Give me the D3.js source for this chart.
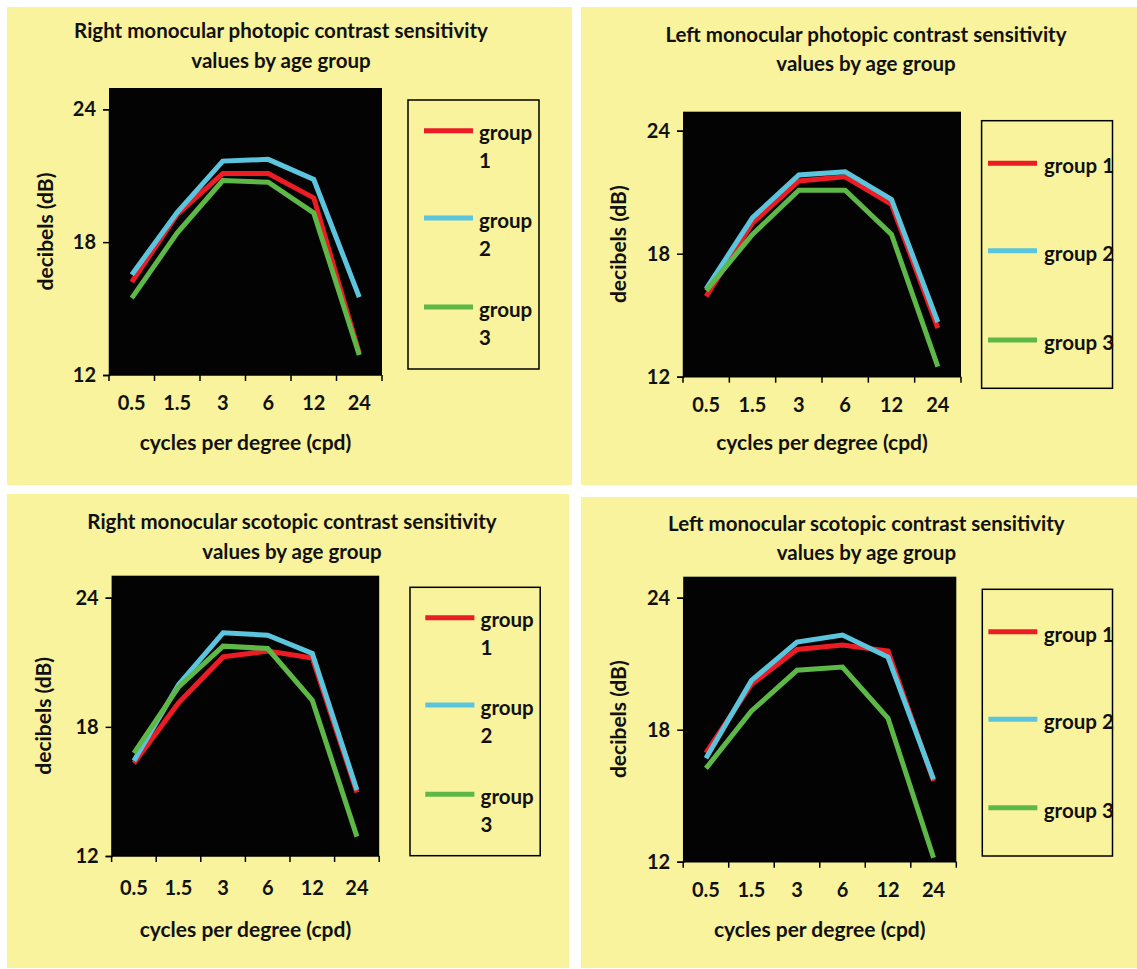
<!DOCTYPE html>
<html>
<head>
<meta charset="utf-8">
<script src="https://cdn.jsdelivr.net/npm/d3@7"></script>
<style>
  html, body { margin: 0; padding: 0; background: #ffffff; }
  svg { display: block; }
  text { font-family: Lato, "Open Sans", "DejaVu Sans", sans-serif; font-weight: 700; fill: #111; }
</style>
</head>
<body>
<svg id="chart" width="1137" height="969"></svg>
<script>
// ---- data ----
const cpdLabels = ["0.5", "1.5", "3", "6", "12", "24"];
const groupNames = ["group 1", "group 2", "group 3"];
const yTickValues = [12, 18, 24];

const titles = [
  ["Right monocular photopic contrast sensitivity", "values by age group"],
  ["Left monocular photopic contrast sensitivity", "values by age group"],
  ["Right monocular scotopic contrast sensitivity", "values by age group"],
  ["Left monocular scotopic contrast sensitivity", "values by age group"]
];
const xAxisTitle = "cycles per degree (cpd)";
const yAxisTitle = "decibels (dB)";

// Right monocular photopic
const rightPhotopicG1 = [16.2, 19.25, 21.1, 21.1, 20.0, 12.98];
const rightPhotopicG2 = [16.53, 19.35, 21.66, 21.74, 20.83, 15.52];
const rightPhotopicG3 = [15.47, 18.42, 20.78, 20.71, 19.32, 12.9];
// Left monocular photopic
const leftPhotopicG1 = [15.92, 19.5, 21.55, 21.75, 20.41, 14.37];
const leftPhotopicG2 = [16.28, 19.76, 21.84, 22.0, 20.65, 14.66];
const leftPhotopicG3 = [16.2, 18.94, 21.1, 21.1, 18.94, 12.49];
// Right monocular scotopic
const rightScotopicG1 = [16.31, 19.11, 21.25, 21.52, 21.2, 14.95];
const rightScotopicG2 = [16.42, 19.96, 22.37, 22.26, 21.41, 15.07];
const rightScotopicG3 = [16.78, 19.85, 21.75, 21.64, 19.23, 12.9];
// Left monocular scotopic
const leftScotopicG1 = [16.95, 20.06, 21.65, 21.85, 21.58, 15.67];
const leftScotopicG2 = [16.7, 20.24, 21.98, 22.3, 21.3, 15.74];
const leftScotopicG3 = [16.24, 18.85, 20.7, 20.85, 18.52, 12.18];

const seriesColors = ["#ec1c24", "#5bc5dd", "#5eb847"];

// ---- layout (positions only) ----
const panels = [
  { bg: [7, 7, 572, 485], left: 109, right: 382, y24: 109.3, y12: 375, top: 88,
    titleX: 281, titleY: [31, 61], labelY: 403, xTitleY: 443, yTitleX: 45.5,
    legend: [408, 100, 539, 369], swX: [424, 473], swY: [130.7, 218, 307], textX: 479, wrap: true,
    series: [rightPhotopicG1, rightPhotopicG2, rightPhotopicG3] },
  { bg: [581, 7, 1137, 485], left: 683, right: 961, y24: 130.7, y12: 376.7, top: 111.7,
    titleX: 866, titleY: [35, 64], labelY: 405, xTitleY: 443, yTitleX: 619,
    legend: [981.6, 120.7, 1112.5, 388.3], swX: [988, 1037], swY: [163.3, 250.7, 340], textX: 1044, wrap: false,
    series: [leftPhotopicG1, leftPhotopicG2, leftPhotopicG3] },
  { bg: [7, 494, 569, 968], left: 111.6, right: 379.2, y24: 597.7, y12: 856, top: 575.7,
    titleX: 292, titleY: [521.7, 551.7], labelY: 888.3, xTitleY: 930, yTitleX: 43.6,
    legend: [410, 587.3, 540.2, 855.7], swX: [425.3, 474.4], swY: [617.7, 705, 794.3], textX: 480.6, wrap: true,
    series: [rightScotopicG1, rightScotopicG2, rightScotopicG3] },
  { bg: [581, 497, 1137, 968], left: 683.2, right: 956.3, y24: 597.7, y12: 861.7, top: 576.7,
    titleX: 866.4, titleY: [524.3, 553.3], labelY: 890, xTitleY: 930, yTitleX: 618.8,
    legend: [982.3, 589.3, 1112.5, 856], swX: [988.4, 1037.3], swY: [631.7, 719.3, 807.7], textX: 1043.8, wrap: false,
    series: [leftScotopicG1, leftScotopicG2, leftScotopicG3] }
];

const svg = d3.select("#chart");
svg.append("rect").attr("width", 1137).attr("height", 969).attr("fill", "#ffffff");

panels.forEach((p, i) => {
  const g = svg.append("g");
  // panel background
  g.append("rect")
    .attr("x", p.bg[0]).attr("y", p.bg[1])
    .attr("width", p.bg[2] - p.bg[0]).attr("height", p.bg[3] - p.bg[1])
    .attr("fill", "#f8f39c");

  // scales
  const x = d3.scaleBand().domain(cpdLabels).range([p.left, p.right]).padding(0);
  const y = d3.scaleLinear().domain([12, 24]).range([p.y12, p.y24]);

  // plot area
  g.append("rect")
    .attr("x", p.left).attr("y", p.top)
    .attr("width", p.right - p.left).attr("height", p.y12 - p.top)
    .attr("fill", "#030303");

  // y axis
  const yAxis = g.append("g").attr("transform", `translate(${p.left},0)`)
    .call(d3.axisLeft(y).tickValues(yTickValues).tickSize(6).tickPadding(7).tickFormat(d3.format("d")));
  yAxis.select(".domain").attr("stroke", "#000").attr("stroke-width", 1.5);
  yAxis.selectAll(".tick line").attr("stroke", "#000").attr("stroke-width", 1.5);
  yAxis.selectAll(".tick text").attr("font-size", 20).attr("fill", "#111")
    .attr("font-family", "Lato, sans-serif").attr("font-weight", 700);

  // x axis: ticks at band boundaries, labels at band centres
  const xAxisG = g.append("g").attr("transform", `translate(0,${p.y12})`);
  xAxisG.append("line").attr("x1", p.left).attr("x2", p.right).attr("stroke", "#000").attr("stroke-width", 1.5);
  const boundaries = cpdLabels.map(c => x(c)).concat([x(cpdLabels[cpdLabels.length - 1]) + x.bandwidth()]);
  xAxisG.selectAll("line.tk").data(boundaries).join("line").attr("class", "tk")
    .attr("x1", d => d).attr("x2", d => d).attr("y1", 0).attr("y2", 6)
    .attr("stroke", "#000").attr("stroke-width", 1.5);
  g.selectAll("text.xl").data(cpdLabels).join("text").attr("class", "xl")
    .attr("x", d => x(d) + x.bandwidth() / 2).attr("y", p.labelY).attr("dy", "0.35em")
    .attr("text-anchor", "middle").attr("font-size", 20).text(d => d);

  // series lines
  const line = d3.line()
    .x((d, k) => x(cpdLabels[k]) + x.bandwidth() / 2)
    .y(d => y(d));
  p.series.forEach((vals, s) => {
    g.append("path").datum(vals)
      .attr("d", line).attr("fill", "none")
      .attr("stroke", seriesColors[s]).attr("stroke-width", 5)
      .attr("stroke-linejoin", "miter").attr("stroke-linecap", "butt");
  });

  // titles
  p.titleY.forEach((ty, k) => {
    g.append("text").attr("x", p.titleX).attr("y", ty).attr("dy", "0.35em")
      .attr("text-anchor", "middle").attr("font-size", 20.5).text(titles[i][k]);
  });
  g.append("text").attr("x", (p.left + p.right) / 2).attr("y", p.xTitleY).attr("dy", "0.35em")
    .attr("text-anchor", "middle").attr("font-size", 21).text(xAxisTitle);
  g.append("text")
    .attr("transform", `translate(${p.yTitleX},${(p.top + p.y12) / 2}) rotate(-90)`)
    .attr("dy", "0.35em").attr("text-anchor", "middle").attr("font-size", 21).text(yAxisTitle);

  // legend
  g.append("rect")
    .attr("x", p.legend[0]).attr("y", p.legend[1])
    .attr("width", p.legend[2] - p.legend[0]).attr("height", p.legend[3] - p.legend[1])
    .attr("fill", "none").attr("stroke", "#000").attr("stroke-width", 1.5);
  groupNames.forEach((name, s) => {
    g.append("line")
      .attr("x1", p.swX[0]).attr("x2", p.swX[1])
      .attr("y1", p.swY[s]).attr("y2", p.swY[s])
      .attr("stroke", seriesColors[s]).attr("stroke-width", 5);
    if (p.wrap) {
      const parts = name.split(" ");
      const t = g.append("text").attr("x", p.textX).attr("y", p.swY[s] + 9.5).attr("font-size", 20.5);
      t.append("tspan").attr("x", p.textX).text(parts[0]);
      t.append("tspan").attr("x", p.textX).attr("dy", 28).text(parts[1]);
    } else {
      g.append("text").attr("x", p.textX).attr("y", p.swY[s] + 10).attr("font-size", 20.5).text(name);
    }
  });
});
</script>
</body>
</html>
